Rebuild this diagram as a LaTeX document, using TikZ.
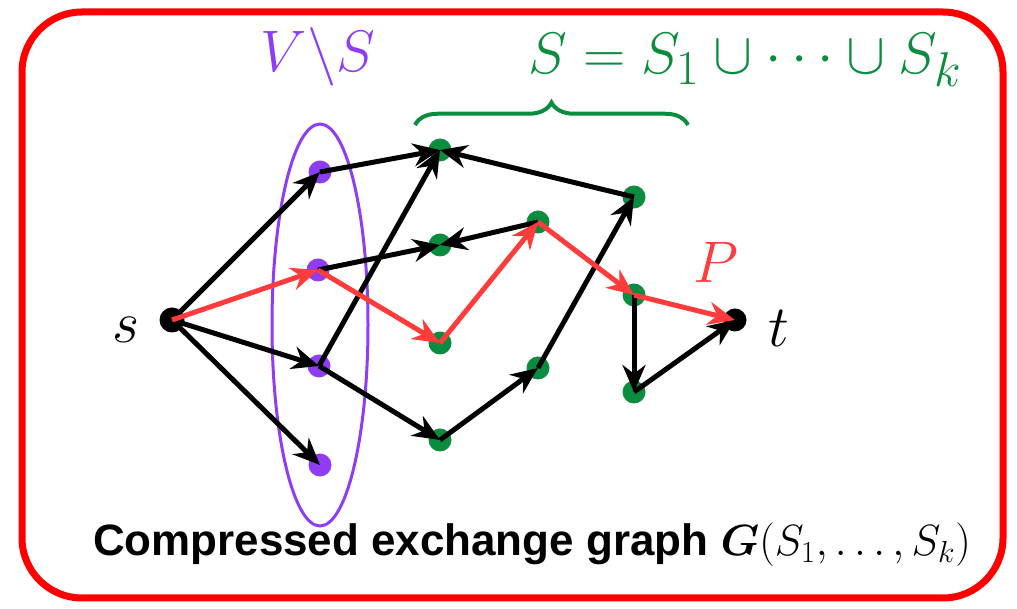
\documentclass[tikz,border=0pt]{standalone}
\usepackage{fontspec}
\setsansfont{Liberation Sans}
\usepackage{amsmath,bm}
\definecolor{framec}{HTML}{FF0000}
\definecolor{pathc}{HTML}{FF3B3B}
\definecolor{restc}{HTML}{8E3DF5}
\definecolor{partc}{HTML}{0B8C3F}
\usetikzlibrary{arrows.meta,decorations.pathreplacing}
\newcommand{\biglab}[1]{\scalebox{1.34}{$#1$}}

\begin{document}
\begin{tikzpicture}[x=0.2mm,y=-0.2mm,every node/.style={font=\fontsize{24.88}{30}\selectfont}]
\useasboundingbox (0,0) rectangle (1017,609);
\tikzstyle{vert}=[circle,inner sep=0pt,minimum size=4.6mm]
\tikzstyle{arc}=[-{Stealth[length=5.4mm,width=4.6mm]},line width=1mm]
% frame and the set V\S
\draw[framec,line width=1.4mm,rounded corners=12mm] (22,12) rectangle (1003,598);
\draw[restc,line width=0.6mm] (320,325) ellipse [x radius=9.6mm,y radius=40.2mm];
% vertices
\node[vert,fill=black,minimum size=5mm] (s) at (172,320) {};
\node[vert,fill=black] (t) at (735,320) {};
\node[vert,fill=restc] (v1) at (320,172) {};
\node[vert,fill=restc] (v2) at (318,270) {};
\node[vert,fill=restc] (v3) at (319,366) {};
\node[vert,fill=restc] (v4) at (320,465) {};
\node[vert,fill=partc] (a) at (440,150) {};
\node[vert,fill=partc] (b) at (440,245) {};
\node[vert,fill=partc] (c) at (440,343) {};
\node[vert,fill=partc] (d) at (440,440) {};
\node[vert,fill=partc] (e) at (538,222) {};
\node[vert,fill=partc] (f) at (538,368) {};
\node[vert,fill=partc] (g) at (634,197) {};
\node[vert,fill=partc] (h) at (634,295) {};
\node[vert,fill=partc] (i) at (634,392) {};
% edges
\draw[arc] (s.center)--(v1.center);
\draw[arc] (s.center)--(v3.center);
\draw[arc] (s.center)--(v4.center);
\draw[arc] (v1.center)--(a.center);
\draw[arc] (v3.center)--(a.center);
\draw[arc] (g.center)--(a.center);
\draw[arc] (v2.center)--(b.center);
\draw[arc] (e.center)--(b.center);
\draw[arc] (v3.center)--(d.center);
\draw[arc] (d.center)--(f.center);
\draw[arc] (f.center)--(g.center);
\draw[arc] (h.center)--(i.center);
\draw[arc] (i.center)--(t.center);
\draw[arc,pathc] (s.center)--(v2.center);
\draw[arc,pathc] (v2.center)--(c.center);
\draw[arc,pathc] (c.center)--(e.center);
\draw[arc,pathc] (e.center)--(h.center);
\draw[arc,pathc] (h.center)--(t.center);
% labels
\node (sl) at (126,330) {\biglab{s}};
\node (tl) at (779,328) {\biglab{t}};
\node[pathc] (pl) at (716,262) {\biglab{P}};
\node[restc] (vsl) at (318,57) {\biglab{V\backslash S}};
\node[partc] (sel) at (745,60) {\biglab{S=S_1\cup\cdots\cup S_k}};
\draw[partc,line width=0.8mm,decorate,decoration={brace,amplitude=4.5mm}] (415,125)--(688,125);
\node[font=\sffamily\bfseries\fontsize{25}{30}\selectfont] (cap) at (532,545) {Compressed exchange graph $\bm{G}(S_1,\ldots,S_k)$};
\end{tikzpicture}
\end{document}
